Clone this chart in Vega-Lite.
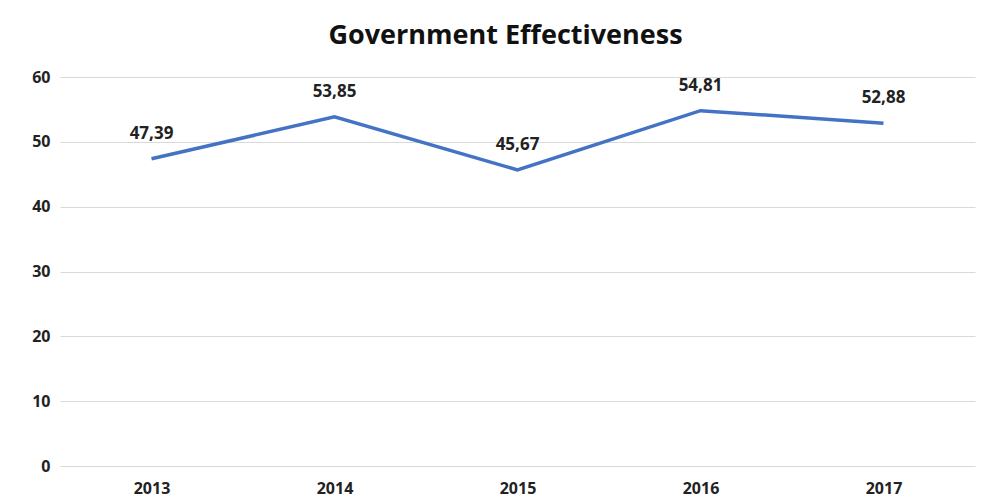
{
  "$schema": "https://vega.github.io/schema/vega-lite/v6.json",
  "autosize": "none",
  "width": 915,
  "height": 389,
  "padding": {"left": 60, "top": 77, "right": 13, "bottom": 37},
  "background": "white",
  "config": {
    "view": {"stroke": null},
    "locale": {"number": {"decimal": ",", "thousands": ".", "grouping": [3], "currency": ["", " €"]}},
    "font": "Open Sans"
  },
  "title": {
    "text": "Government Effectiveness",
    "font": "Open Sans",
    "fontSize": 27,
    "fontWeight": "bold",
    "color": "#111111",
    "offset": 19,
    "dx": -12
  },
  "data": {
    "values": [
      {"year": "2013", "value": 47.39},
      {"year": "2014", "value": 53.85},
      {"year": "2015", "value": 45.67},
      {"year": "2016", "value": 54.81},
      {"year": "2017", "value": 52.88}
    ]
  },
  "encoding": {
    "x": {
      "field": "year",
      "type": "ordinal",
      "scale": {"type": "point", "padding": 0.5},
      "axis": {
        "title": null,
        "labelAngle": 0,
        "domain": false,
        "ticks": false,
        "labelFontSize": 16,
        "labelFontWeight": "bold",
        "labelColor": "#222222",
        "labelPadding": 14,
        "grid": false
      }
    },
    "y": {
      "field": "value",
      "type": "quantitative",
      "scale": {"domain": [0, 60]},
      "axis": {
        "title": null,
        "values": [0, 10, 20, 30, 40, 50, 60],
        "domain": false,
        "ticks": false,
        "labelFontSize": 16,
        "labelFontWeight": "bold",
        "labelColor": "#222222",
        "labelPadding": 10,
        "gridColor": "#d9d9d9",
        "gridWidth": 1
      }
    }
  },
  "layer": [
    {
      "mark": {"type": "line", "color": "#4472C4", "strokeWidth": 3.5}
    },
    {
      "mark": {"type": "text", "dy": -25, "fontSize": 17, "fontWeight": "bold", "color": "#222222"},
      "encoding": {
        "text": {"field": "value", "type": "quantitative", "format": ".2f"}
      }
    }
  ]
}
